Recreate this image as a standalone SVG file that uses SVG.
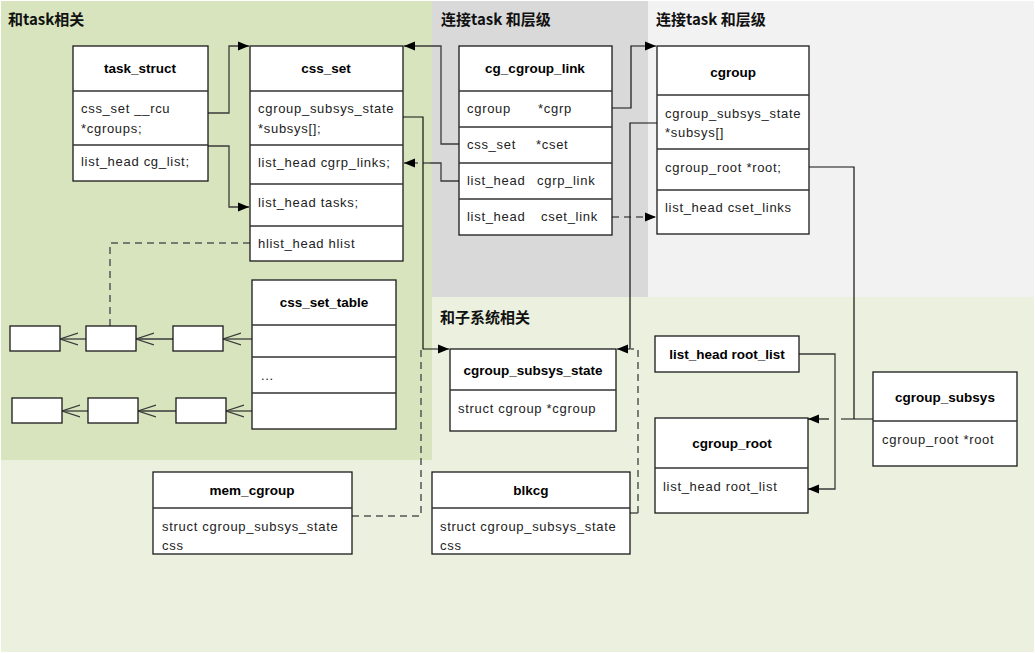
<svg xmlns="http://www.w3.org/2000/svg" width="1035" height="653" viewBox="0 0 1035 653">
<style>
.box{fill:#fff;stroke:#1a1a1a;stroke-width:1.3}
.sep{stroke:#333;stroke-width:1.3}
.h{font-family:"Liberation Sans",Arial,sans-serif;font-size:13.5px;font-weight:bold;fill:#000;text-anchor:middle}
.t{font-family:"Liberation Sans",Arial,sans-serif;font-size:13px;fill:#222;letter-spacing:0.7px}
.zh{font-family:"Noto Sans CJK SC",sans-serif;font-size:15px;font-weight:bold;fill:#111}
.c{fill:none;stroke:#3a3a3a;stroke-width:1.3}
.k{fill:none;stroke:#111;stroke-width:1.2}
.d{fill:none;stroke:#555;stroke-width:1.5;stroke-dasharray:7,5}
.o{fill:none;stroke:#3a3a3a;stroke-width:1.3}
</style>
<defs>
<marker id="fa" markerWidth="12" markerHeight="10" refX="11" refY="5" orient="auto" markerUnits="userSpaceOnUse"><path d="M0,0.5 L11,5 L0,9.5 z" fill="#000"/></marker>
<marker id="oa" markerWidth="20" markerHeight="16" refX="18" refY="7" orient="auto" markerUnits="userSpaceOnUse"><path d="M0,1 L18,7 L0,13" fill="none" stroke="#3a3a3a" stroke-width="1.3"/></marker>
</defs>
<g id="background">
<rect x="0" y="0" width="1035" height="653" fill="#fff"/>
<rect x="1" y="1" width="1033" height="651" fill="#ebf1de"/>
<rect x="1" y="1" width="431" height="459" fill="#d7e4bd"/>
<rect x="432" y="1" width="216" height="296" fill="#d9d9d9"/>
<rect x="648" y="1" width="386" height="296" fill="#f2f2f2"/>
<text class="zh" x="8" y="25">和task相关</text>
<text class="zh" x="441" y="25">连接task 和层级</text>
<text class="zh" x="656" y="25">连接task 和层级</text>
<text class="zh" x="440" y="323">和子系统相关</text>
</g>
<g id="connectors">
<path class="c" d="M207,113 H229 V46 H249" marker-end="url(#fa)"/>
<path class="c" d="M207,146 H229 V207 H249" marker-end="url(#fa)"/>
<path class="c" d="M459,144 H441 V46 H404" marker-end="url(#fa)"/>
<path class="c" d="M459,181 H441 V163 H430"/>
<path class="d" d="M430,163 H404" marker-end="url(#fa)" stroke-dasharray="10,6"/>
<path class="k" d="M402,117 H423 V349 H449" marker-end="url(#fa)"/>
<path class="k" d="M612,108 H631 V46 H656" marker-end="url(#fa)"/>
<path class="d" d="M612,217 H656" marker-end="url(#fa)" stroke-dasharray="12,8"/>
<path class="k" d="M657,123 H630 V349 H617" marker-end="url(#fa)"/>
<path class="d" d="M352,516 H421 V349 H424"/>
<path class="c" d="M630,513 H638"/>
<path class="d" d="M638,513 V349 H631"/>
<path class="d" d="M250,243 H110 V326"/>
<path class="k" d="M809,167 H854 V419"/>
<path class="k" d="M874,419 H841"/>
<path class="k" d="M829,419 H808" marker-end="url(#fa)"/>
<path class="c" d="M799,354 H835 V489 H808" marker-end="url(#fa)"/>
<path class="o" d="M252,339 H223" marker-end="url(#oa)"/>
<path class="o" d="M173,339 H136" marker-end="url(#oa)"/>
<path class="o" d="M86,339 H60" marker-end="url(#oa)"/>
<path class="o" d="M252,411 H226" marker-end="url(#oa)"/>
<path class="o" d="M176,411 H138" marker-end="url(#oa)"/>
<path class="o" d="M88,411 H62" marker-end="url(#oa)"/>
</g>
<g id="task_struct">
<rect class="box" x="73" y="46" width="135" height="135"/>
<line class="sep" x1="73" y1="91" x2="208" y2="91"/>
<line class="sep" x1="73" y1="145" x2="208" y2="145"/>
<text class="h" x="140" y="73">task_struct</text>
<text class="t" x="81" y="113">css_set __rcu</text>
<text class="t" x="81" y="133">*cgroups;</text>
<text class="t" x="81" y="166">list_head  cg_list;</text>
</g>
<g id="css_set">
<rect class="box" x="250" y="46" width="153" height="215"/>
<line class="sep" x1="250" y1="91" x2="403" y2="91"/>
<line class="sep" x1="250" y1="145" x2="403" y2="145"/>
<line class="sep" x1="250" y1="184" x2="403" y2="184"/>
<line class="sep" x1="250" y1="226" x2="403" y2="226"/>
<text class="h" x="326" y="73">css_set</text>
<text class="t" x="258" y="113">cgroup_subsys_state</text>
<text class="t" x="258" y="133">*subsys[];</text>
<text class="t" x="258" y="167">list_head cgrp_links;</text>
<text class="t" x="258" y="207">list_head tasks;</text>
<text class="t" x="258" y="248">hlist_head hlist</text>
</g>
<g id="cg_cgroup_link">
<rect class="box" x="459" y="46" width="153" height="189"/>
<line class="sep" x1="459" y1="91" x2="612" y2="91"/>
<line class="sep" x1="459" y1="127" x2="612" y2="127"/>
<line class="sep" x1="459" y1="163" x2="612" y2="163"/>
<line class="sep" x1="459" y1="199" x2="612" y2="199"/>
<text class="h" x="535" y="73">cg_cgroup_link</text>
<text class="t" x="467" y="113">cgroup</text><text class="t" x="538" y="113">*cgrp</text>
<text class="t" x="467" y="149">css_set</text><text class="t" x="536" y="149">*cset</text>
<text class="t" x="467" y="185">list_head</text><text class="t" x="537" y="185">cgrp_link</text>
<text class="t" x="467" y="221">list_head</text><text class="t" x="541" y="221">cset_link</text>
</g>
<g id="cgroup">
<rect class="box" x="657" y="46" width="152" height="188"/>
<line class="sep" x1="657" y1="95" x2="809" y2="95"/>
<line class="sep" x1="657" y1="149" x2="809" y2="149"/>
<line class="sep" x1="657" y1="190" x2="809" y2="190"/>
<text class="h" x="733" y="77">cgroup</text>
<text class="t" x="665" y="118">cgroup_subsys_state</text>
<text class="t" x="665" y="137">*subsys[]</text>
<text class="t" x="665" y="172">cgroup_root *root;</text>
<text class="t" x="665" y="212">list_head cset_links</text>
</g>
<g id="css_set_table">
<rect class="box" x="252" y="280" width="144" height="149"/>
<line class="sep" x1="252" y1="325" x2="396" y2="325"/>
<line class="sep" x1="252" y1="357" x2="396" y2="357"/>
<line class="sep" x1="252" y1="393" x2="396" y2="393"/>
<text class="h" x="324" y="307">css_set_table</text>
<text class="t" x="261" y="380">...</text>
</g>
<g id="list_nodes">
<rect class="box" x="10" y="326" width="50" height="25"/>
<rect class="box" x="86" y="326" width="50" height="25"/>
<rect class="box" x="173" y="326" width="50" height="25"/>
<rect class="box" x="12" y="398" width="50" height="25"/>
<rect class="box" x="88" y="398" width="50" height="25"/>
<rect class="box" x="176" y="398" width="50" height="25"/>
</g>
<g id="cgroup_subsys_state">
<rect class="box" x="450" y="349" width="166" height="82"/>
<line class="sep" x1="450" y1="390" x2="616" y2="390"/>
<text class="h" x="533" y="375">cgroup_subsys_state</text>
<text class="t" x="458" y="413">struct cgroup *cgroup</text>
</g>
<g id="mem_cgroup">
<rect class="box" x="153" y="472" width="199" height="82"/>
<line class="sep" x1="153" y1="508" x2="352" y2="508"/>
<text class="h" x="252" y="495">mem_cgroup</text>
<text class="t" x="162" y="531">struct cgroup_subsys_state</text>
<text class="t" x="162" y="550">css</text>
</g>
<g id="blkcg">
<rect class="box" x="432" y="472" width="198" height="82"/>
<line class="sep" x1="432" y1="508" x2="630" y2="508"/>
<text class="h" x="531" y="495">blkcg</text>
<text class="t" x="440" y="531">struct cgroup_subsys_state</text>
<text class="t" x="440" y="550">css</text>
</g>
<g id="list_head_root_list">
<rect class="box" x="655" y="336" width="144" height="36"/>
<text class="h" x="727" y="359">list_head root_list</text>
</g>
<g id="cgroup_root">
<rect class="box" x="655" y="418" width="153" height="95"/>
<line class="sep" x1="655" y1="468" x2="808" y2="468"/>
<text class="h" x="732" y="448">cgroup_root</text>
<text class="t" x="663" y="491">list_head root_list</text>
</g>
<g id="cgroup_subsys">
<rect class="box" x="873" y="372" width="144" height="94"/>
<line class="sep" x1="873" y1="421" x2="1017" y2="421"/>
<text class="h" x="945" y="402">cgroup_subsys</text>
<text class="t" x="882" y="444">cgroup_root *root</text>
</g>
</svg>
